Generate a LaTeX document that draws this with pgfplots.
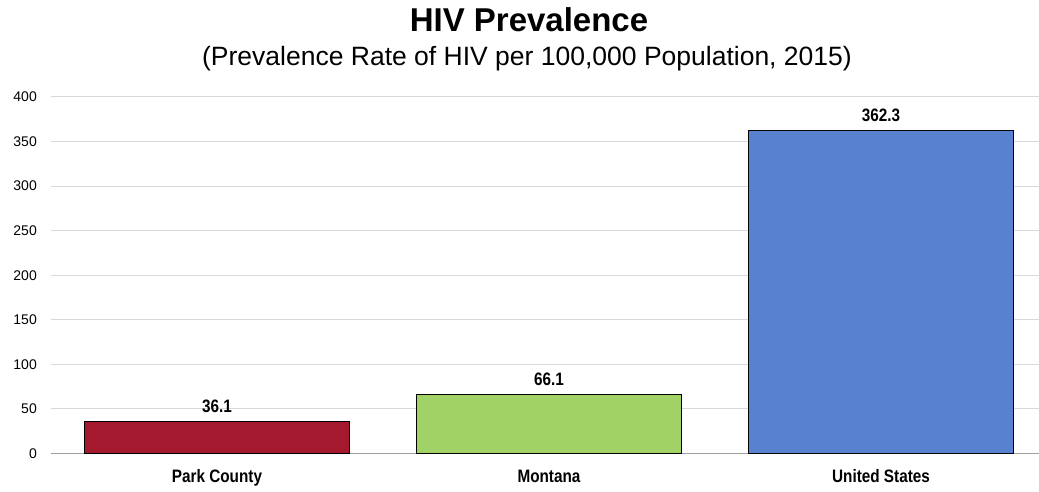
\documentclass[border=0pt]{standalone}
\usepackage{pgfplots}
\pgfplotsset{compat=1.18}
\usepackage{fontspec}
\setmainfont{Liberation Sans}
\newfontfamily\narrowfont[FakeStretch=0.85]{Liberation Sans}

\definecolor{parkred}{RGB}{164,25,46}
\definecolor{mtgreen}{RGB}{160,210,102}
\definecolor{usblue}{RGB}{88,129,208}
\definecolor{gridgray}{RGB}{217,217,217}
\definecolor{axisgray}{RGB}{160,160,160}

\begin{document}
\begin{tikzpicture}[x=1pt,y=1pt]
\useasboundingbox (-51,-37.5) rectangle (988,453.5);
\begin{axis}[
  scale only axis,
  width=996pt, height=356.6pt,
  xmin=-0.5, xmax=2.5,
  ymin=0, ymax=400,
  ytick={0,50,...,400},
  xtick={0,1,2},
  xticklabels={Park County, Montana, United States},
  ybar, bar width=0.8,
  axis x line*=bottom,
  axis y line*=left,
  y axis line style={draw=none},
  x axis line style={axisgray, line width=1pt, -},
  major tick length=0pt,
  ymajorgrids,
  grid style={gridgray, line width=1pt},
  /pgf/number format/assume math mode=true,
  yticklabel style={font=\fontsize{14}{16}\selectfont, anchor=east, inner sep=0pt, xshift=-14pt},
  xticklabel style={font=\narrowfont\bfseries\fontsize{18}{20}\selectfont, anchor=base, inner sep=0pt, yshift=-29pt},
  point meta=explicit symbolic,
  nodes near coords,
  nodes near coords style={font=\narrowfont\bfseries\fontsize{18}{20}\selectfont, anchor=base, inner sep=0pt, yshift=9pt},
  clip=false,
]
\addplot[bar shift=0pt, fill=parkred, draw=black, line width=1pt] coordinates {(0,36.1) [36.1]};
\addplot[bar shift=0pt, fill=mtgreen, draw=black, line width=1pt] coordinates {(1,66.1) [66.1]};
\addplot[bar shift=0pt, fill=usblue, draw=black, line width=1pt] coordinates {(2,362.3) [362.3]};
\end{axis}
\node[anchor=base, font=\bfseries\fontsize{33}{38}\selectfont] at (478,421.5) {HIV Prevalence};
\node[anchor=base, font=\fontsize{26.5}{30}\selectfont] at (476,387.5) {(Prevalence Rate of HIV per 100,000 Population, 2015)};
\end{tikzpicture}
\end{document}
